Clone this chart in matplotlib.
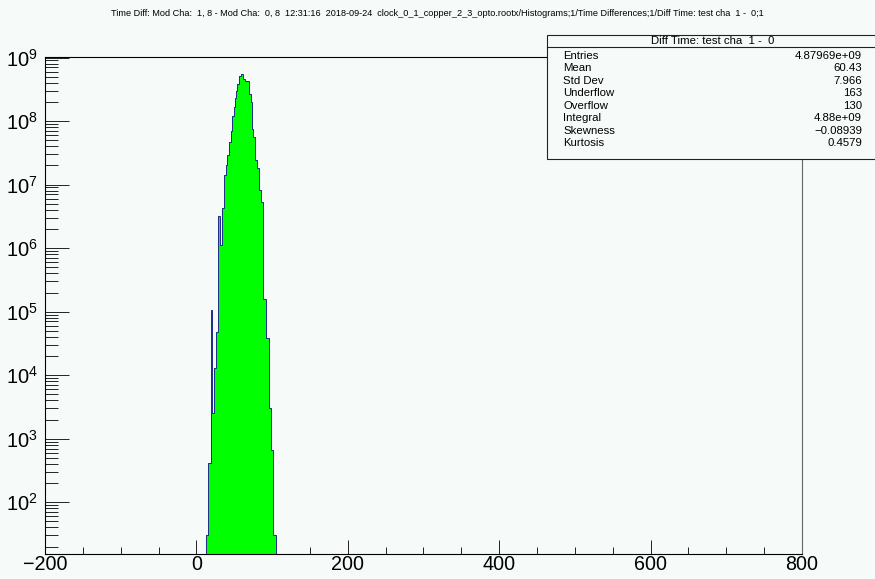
import numpy as np
import matplotlib
matplotlib.use("Agg")
import matplotlib.pyplot as plt
from matplotlib.patches import Rectangle
from matplotlib.ticker import LogLocator, MultipleLocator

# bin edges and contents (variable width steps)
edges = [12.3, 15.7, 18.9, 19.7, 21.0, 23.2, 25.5, 27.9, 31.2, 33.8,
         36.5, 39.1, 40.8, 42.7, 45.3, 47.0, 49.7, 51.4, 52.3, 54.0,
         56.7, 59.3, 62.0, 64.6, 69.9, 71.7, 73.4, 75.2, 77.8, 80.4,
         83.1, 84.9, 88.0, 92.0, 95.9, 98.5, 101.6, 105.2]
counts = [30, 420, 1600, 1.05e5, 2500, 1.3e4, 4.8e4, 3.2e6, 1.1e6,
          4.3e6, 1.4e7, 2.0e7, 2.9e7, 4.7e7, 7.1e7, 1.2e8, 1.65e8, 2.3e8,
          3.0e8, 3.9e8, 5.2e8, 5.6e8, 4.6e8, 4.35e8, 2.7e8, 2.0e8, 7.6e7,
          5.6e7, 2.4e7, 1.8e7, 8.1e6, 5.3e6, 1.6e5, 3.8e4, 3.0e3, 660, 30]

title = ("Time Diff: Mod Cha:  1, 8 - Mod Cha:  0, 8  12:31:16  2018-09-24  "
         "clock_0_1_copper_2_3_opto.rootx/Histograms;1/Time Differences;1/"
         "Diff Time: test cha  1 -  0;1")
stats_title = "Diff Time: test cha  1 -  0"
stats_names = ["Entries", "Mean", "Std Dev", "Underflow", "Overflow",
               "Integral", "Skewness", "Kurtosis"]
stats_values = ["4.87969e+09", "60.43", "7.966", "163", "130",
                "4.88e+09", "\u22120.08939", "0.4579"]

W, H = 875, 579
bg = "#f6faf8"
plt.rcParams['font.family'] = ['Liberation Sans', 'DejaVu Sans']

fig = plt.figure(figsize=(W / 100, H / 100), dpi=100, facecolor=bg)
ax = fig.add_axes([45 / W, 1 - 554 / H, (802 - 45) / W, (554 - 57) / H])
ax.set_facecolor(bg)


def px(x, y):
    return x / W, 1 - y / H


ax.stairs(counts, edges, baseline=1, fill=True, color="#00ff00", zorder=2)
ax.stairs(counts, edges, baseline=1, fill=False, color="#1c2c8c",
          linewidth=0.7, zorder=3)

ax.set_yscale("log")
ax.set_xlim(-200, 800)
ax.set_ylim(15.3, 1.02e9)

ax.xaxis.set_major_locator(MultipleLocator(200))
ax.xaxis.set_minor_locator(MultipleLocator(50))
ax.yaxis.set_major_locator(LogLocator(base=10, numticks=20))
ax.yaxis.set_minor_locator(LogLocator(base=10, subs=np.arange(2, 10), numticks=20))

ax.tick_params(axis="x", which="major", direction="in", length=10, width=0.6,
               labelsize=14.2, pad=0.5, top=False)
ax.tick_params(axis="x", which="minor", direction="in", length=5, width=0.6, top=False)
ax.tick_params(axis="y", which="major", direction="in", length=17, width=0.6,
               labelsize=14.5, pad=5, right=False)
ax.tick_params(axis="y", which="minor", direction="in", length=9, width=0.6, right=False)
for s in ax.spines.values():
    s.set_linewidth(0.8)
    s.set_zorder(4)
ax.spines["right"].set_color("#666666")

fig.text(*px(437, 13), title, ha="center", va="center", fontsize=6.6)

# stats box
x0, y0 = px(547, 159)
x1, y1 = px(880, 35)
fig.patches.append(Rectangle((x0, y0), x1 - x0, y1 - y0, transform=fig.transFigure,
                             facecolor=bg, edgecolor="#222222", linewidth=0.8,
                             zorder=5))
fig.add_artist(plt.Line2D([x0, x1], [px(0, 46.7)[1]] * 2, transform=fig.transFigure,
                          color="#222222", linewidth=0.8, zorder=6))
fig.text(*px(713, 41), stats_title, ha="center", va="center", fontsize=8.2, zorder=7)
for i, (n, v) in enumerate(zip(stats_names, stats_values)):
    yy = 56 + i * 12.45
    fig.text(*px(563, yy), n, ha="left", va="center", fontsize=8.2, zorder=7)
    fig.text(*px(862, yy), v, ha="right", va="center", fontsize=8.2, zorder=7)

fig.savefig("out.png", dpi=100, facecolor=bg)
